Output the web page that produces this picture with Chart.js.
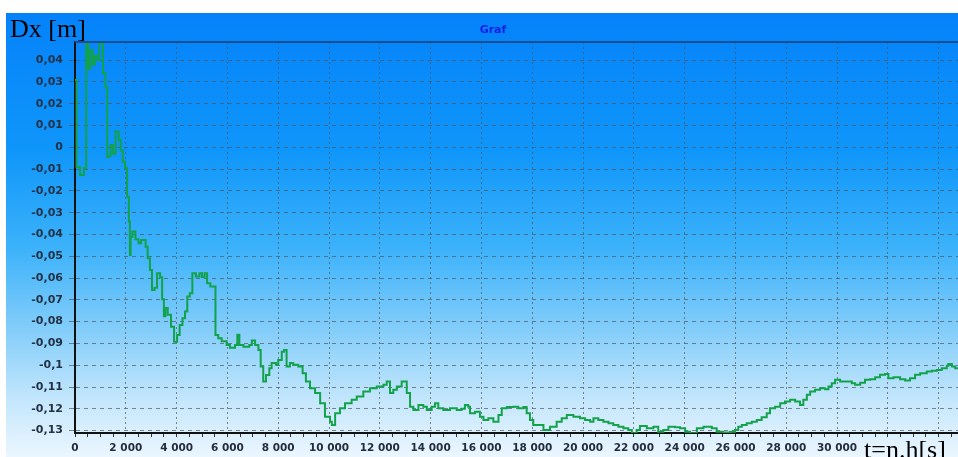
<!DOCTYPE html>
<html>
<head>
<meta charset="utf-8">
<title>Graf</title>
<script src="https://cdn.jsdelivr.net/npm/chart.js@4.4.0/dist/chart.umd.min.js"></script>
<style>
html, body { margin: 0; padding: 0; background: #fff; }
#graf-canvas { display: block; }
</style>
</head>
<body>
<canvas id="graf-canvas" width="958" height="457"></canvas>
<script>
// time t = n.h [s]
const times = [
  0, 60, 200, 350, 440, 520, 600, 700, 780, 880, 960, 1100, 1200, 1270,
  1330, 1400, 1500, 1600, 1720, 1800, 1880, 1970, 2050, 2120, 2160, 2190,
  2260, 2380, 2500, 2600, 2780, 2860, 2950, 3030, 3130, 3230, 3350, 3430,
  3500, 3560, 3650, 3780, 3900, 4020, 4120, 4230, 4330, 4420, 4520, 4620,
  4760, 4900, 5000, 5100, 5200, 5330, 5530, 5640, 5775, 5970, 6100, 6300,
  6390, 6470, 6630, 6860, 6960, 7090, 7220, 7310, 7410, 7520, 7650, 7740,
  7910, 8000, 8140, 8230, 8330, 8460, 8590, 8790, 8960, 9090, 9250, 9450,
  9650, 9840, 10040, 10110, 10240, 10430, 10630, 10890, 11090, 11350, 11610,
  11880, 12140, 12270, 12400, 12530, 12670, 12860, 13060, 13190, 13320,
  13520, 13710, 13850, 14040, 14170, 14300, 14500, 14760, 15030, 15220,
  15350, 15480, 15550, 15750, 15940, 16080, 16270, 16470, 16670, 16800,
  17000, 17260, 17450, 17650, 17780, 17910, 18040, 18240, 18440, 18700,
  18960, 19160, 19360, 19620, 19880, 20080, 20280, 20410, 20600, 20800,
  21000, 21190, 21390, 21590, 21780, 21920, 22110, 22240, 22510, 22770,
  22960, 23160, 23360, 23620, 23820, 24020, 24210, 24480, 24740, 25070,
  25260, 25520, 25790, 25980, 26110, 26250, 26440, 26640, 26840, 27030,
  27230, 27360, 27560, 27760, 27950, 28150, 28350, 28540, 28670, 28810,
  28940, 29130, 29330, 29530, 29660, 29790, 29920, 30120, 30380, 30580,
  30710, 30910, 31100, 31300, 31500, 31690, 31890, 32020, 32220, 32480,
  32680, 32870, 33070, 33270, 33530, 33730, 33930, 34120, 34320, 34380,
  34520, 34650, 34760
];

// Dx [m]
const dx = [
  0.031, -0.009, -0.0127, -0.0096, 0.0478, 0.036, 0.0445, 0.038, 0.042, 0.040, 0.0478, 0.034, 0.0275, -0.0045,
  -0.004, 0.001, -0.003, 0.0072, 0.0033, -0.0015, -0.0067, -0.0095, -0.0227, -0.0341, -0.0494, -0.041,
  -0.0387, -0.0422, -0.044, -0.0425, -0.0456, -0.0509, -0.0563, -0.0655, -0.0645, -0.0578, -0.0596, -0.0697,
  -0.0775, -0.0737, -0.0768, -0.0823, -0.0892, -0.0861, -0.0815, -0.0784, -0.0753, -0.0685, -0.067, -0.0578,
  -0.0593, -0.0578, -0.0595, -0.0578, -0.0624, -0.0639, -0.0861, -0.0876, -0.089, -0.0907, -0.092, -0.0907,
  -0.086, -0.0907, -0.0915, -0.0907, -0.0887, -0.0907, -0.093, -0.1006, -0.1075, -0.1045, -0.1014, -0.099,
  -0.0998, -0.0976, -0.0938, -0.093, -0.1006, -0.099, -0.0998, -0.1006, -0.1037, -0.1075, -0.1106, -0.1128,
  -0.1174, -0.1236, -0.1259, -0.1274, -0.122, -0.1197, -0.1174, -0.1159, -0.1144, -0.1121, -0.1106,
  -0.1098, -0.109, -0.1075, -0.1128, -0.1113, -0.1098, -0.1075, -0.1128, -0.119, -0.1205,
  -0.1182, -0.119, -0.1205, -0.119, -0.1174, -0.1197, -0.1205, -0.1197, -0.1205, -0.12,
  -0.1182, -0.119, -0.122, -0.1213, -0.1236, -0.1251, -0.1243, -0.1259, -0.1228, -0.1197,
  -0.1192, -0.119, -0.1197, -0.1192, -0.122, -0.1251, -0.1274, -0.1274, -0.1297, -0.1282,
  -0.1259, -0.1243, -0.1228, -0.1236, -0.1243, -0.1251, -0.1259, -0.1243, -0.1251, -0.1259,
  -0.1266, -0.1274, -0.1282, -0.1289, -0.1297, -0.1312, -0.1297, -0.1279, -0.1289, -0.1282,
  -0.1305, -0.1297, -0.1282, -0.1285, -0.1289, -0.1305, -0.1312, -0.1289, -0.1282, -0.1289,
  -0.1305, -0.1309, -0.1305, -0.1297, -0.1282, -0.1274, -0.1266, -0.1259, -0.1251, -0.1239,
  -0.122, -0.1197, -0.119, -0.1174, -0.1167, -0.1159, -0.1167, -0.1182, -0.1159, -0.1136,
  -0.1121, -0.1113, -0.1106, -0.111, -0.1098, -0.1083, -0.1067, -0.1075, -0.1075, -0.1083,
  -0.109, -0.108, -0.1067, -0.1064, -0.1055, -0.1044, -0.104, -0.106, -0.1055, -0.1064,
  -0.107, -0.106, -0.1044, -0.1037, -0.1029, -0.1025, -0.1022, -0.1014, -0.1003, -0.0994,
  -0.1006, -0.1014, -0.1014
];

// axis ranges and tick spacing
const xRange = [0, 34760];
const xMajorStep = 2000;
const xMinorStep = 500;
const xLastLabel = 30000;
const yRange = [-0.1311, 0.0483];
const yStep = 0.01;

const gridColor = 'rgba(80, 85, 95, 0.7)';
const labelFont = {family: '"DejaVu Sans", sans-serif', size: 11, weight: 'bold'};

function fmt_y(v){
  const r = Math.round(v * 100) / 100;
  return String(r).replace('.', ',');
}

function is_major(v){
  return Math.round(v) % xMajorStep == 0;
}

function fmt_x(v){
  v = Math.round(v);
  if(!is_major(v) || v > xLastLabel) return '';
  return String(v).replace(/\B(?=(\d{3})+(?!\d))/g, ' ');
}

// every 500 s gets a small tick, every 2000 s a grid line and label
function build_x_ticks(scale){
  const ticks = [];
  for(let v = xRange[0]; v <= xRange[1]; v += xMinorStep){
    ticks.push({value: v});
  }
  scale.ticks = ticks;
}

const decor = {
  id: 'decor',
  beforeDraw(chart){
    const ctx = chart.ctx;
    const w = chart.width, h = chart.height;
    ctx.save();
    ctx.fillStyle = '#ffffff';
    ctx.fillRect(0, 0, w, h);
    const g = ctx.createLinearGradient(0, 13, 0, h);
    g.addColorStop(0, 'rgb(5, 130, 250)');
    g.addColorStop(0.31, 'rgb(15, 150, 250)');
    g.addColorStop(0.53, 'rgb(60, 178, 250)');
    g.addColorStop(0.71, 'rgb(130, 205, 250)');
    g.addColorStop(0.87, 'rgb(195, 230, 252)');
    g.addColorStop(1, 'rgb(235, 246, 255)');
    ctx.fillStyle = g;
    ctx.fillRect(6, 13, w - 6, h - 13);
    ctx.restore();
  },
  afterDraw(chart){
    const ctx = chart.ctx;
    const area = chart.chartArea;
    ctx.save();
    // top frame line
    ctx.strokeStyle = 'rgb(20, 80, 150)';
    ctx.lineWidth = 2;
    ctx.beginPath();
    ctx.moveTo(area.left, area.top);
    ctx.lineTo(area.right, area.top);
    ctx.stroke();

    ctx.fillStyle = 'rgb(20, 30, 230)';
    ctx.font = 'bold 11px "DejaVu Sans", sans-serif';
    ctx.textAlign = 'center';
    ctx.textBaseline = 'middle';
    ctx.fillText('Graf', 493, 30);

    ctx.fillStyle = '#000';
    ctx.font = '26px "Liberation Serif", serif';
    ctx.textAlign = 'left';
    ctx.textBaseline = 'alphabetic';
    ctx.fillText('Dx [m]', 10, 37);
    ctx.fillText('t=n.h[s]', 864, 458);
    ctx.restore();
  }
};

const points = times.map((t, i) => ({x: t, y: dx[i]}));

const myChart = new Chart(document.getElementById('graf-canvas'), {
  type: 'line',
  plugins: [decor],
  data: {
    datasets: [{
      label: 'Dx',
      data: points,
      borderColor: 'rgb(18, 162, 74)',
      borderWidth: 2,
      pointRadius: 0,
      stepped: true,
      fill: false
    }]
  },
  options: {
    responsive: false,
    animation: false,
    devicePixelRatio: 1,
    layout: {
      padding: {top: 42, right: 0, left: 0, bottom: 0}
    },
    plugins: {
      legend: {display: false},
      title: {display: false},
      tooltip: {enabled: false}
    },
    scales: {
      x: {
        type: 'linear',
        min: xRange[0],
        max: xRange[1],
        afterBuildTicks: build_x_ticks,
        afterFit: function(scale){ scale.height = 24; },
        border: {display: true, color: '#111', width: 2, dash: [2, 3]},
        grid: {
          color: ctx => (ctx.tick && is_major(ctx.tick.value)) ? gridColor : 'rgba(0,0,0,0)',
          tickColor: '#333',
          lineWidth: 1,
          tickLength: 4
        },
        ticks: {
          autoSkip: false,
          maxRotation: 0,
          minRotation: 0,
          padding: 5,
          color: 'rgb(35, 45, 60)',
          font: {family: '"DejaVu Sans", sans-serif', size: 10.5, weight: 'bold'},
          callback: fmt_x
        }
      },
      y: {
        type: 'linear',
        min: yRange[0],
        max: yRange[1],
        afterFit: function(scale){ scale.width = 75; },
        border: {display: true, color: '#111', width: 2, dash: [4, 4]},
        grid: {
          color: gridColor,
          tickColor: gridColor,
          lineWidth: 1,
          tickLength: 6
        },
        ticks: {
          stepSize: yStep,
          includeBounds: false,
          padding: 6,
          color: 'rgb(35, 50, 70)',
          font: labelFont,
          callback: fmt_y
        }
      }
    }
  }
});
</script>
</body>
</html>
